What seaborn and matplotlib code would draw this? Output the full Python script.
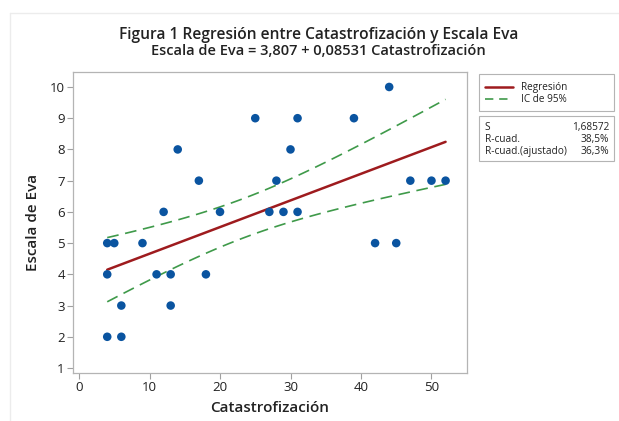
import numpy as np
import pandas as pd
import matplotlib
matplotlib.use("Agg")
import matplotlib.pyplot as plt
import seaborn as sns
from matplotlib.lines import Line2D

catastrofizacion = [12, 14, 17, 20, 25, 31, 30, 28, 27, 29, 31, 39, 44, 47, 50, 52,
                    4, 5, 9, 4, 11, 13, 18, 6, 13, 4, 6, 42, 45]
escala_eva = [6, 8, 7, 6, 9, 9, 8, 7, 6, 6, 6, 9, 10, 7, 7, 7,
              5, 5, 5, 4, 4, 4, 4, 3, 3, 2, 2, 5, 5]
intercept = 3.807
slope = 0.08531
stat_labels = ["S", "R-cuad.", "R-cuad.(ajustado)"]
stat_values = ["1,68572", "38,5%", "36,3%"]
legend_labels = ["Regresión", "IC de 95%"]
x_ticks = [0, 10, 20, 30, 40, 50]
y_ticks = [1, 2, 3, 4, 5, 6, 7, 8, 9, 10]

sns.set_style("white")
plt.rcParams['font.family'] = ['Open Sans', 'DejaVu Sans']

RED = "#9e1b1e"
GREEN = "#3f9a4a"

df = pd.DataFrame({"x": catastrofizacion, "y": escala_eva})
x = np.array(catastrofizacion, float)
n = len(x)
s = 1.68572
tcrit = 2.048
xm = x.mean()
sxx = ((x - xm) ** 2).sum()
xs = np.linspace(x.min(), x.max(), 100)
ys = intercept + slope * xs
se = s * np.sqrt(1.0 / (n + 1) + (xs - xm) ** 2 / sxx)
line_df = pd.DataFrame({"x": xs, "fit": ys, "lo": ys - tcrit * se, "hi": ys + tcrit * se})

fig = plt.figure(figsize=(6.19, 4.21), dpi=100)
ax = fig.add_axes([0.118, 0.114, 0.636, 0.715])

sns.scatterplot(data=df, x="x", y="y", ax=ax, color="#0a54a0", s=38,
                edgecolor="none", zorder=3)
sns.lineplot(data=line_df, x="x", y="fit", ax=ax, color=RED, lw=1.8, zorder=2)
for col in ["lo", "hi"]:
    sns.lineplot(data=line_df, x="x", y=col, ax=ax, color=GREEN, lw=1.2, zorder=2)
ax.lines[-1].set_dashes((7, 4))
ax.lines[-2].set_dashes((7, 4))

ax.set_xlim(-0.85, 55)
ax.set_ylim(0.84, 10.48)
ax.set_xticks(x_ticks)
ax.set_yticks(y_ticks)
ax.tick_params(axis="both", which="both", direction="out", length=4, width=0.8,
               color="#a0a0a0", labelsize=9.5, pad=2, labelcolor="#222222",
               bottom=True, left=True)
for sp in ax.spines.values():
    sp.set_color("#b4b4b4")
    sp.set_linewidth(0.9)
ax.set_xlabel("Catastrofización", fontsize=11, fontweight="semibold", color="#222222", labelpad=5)
ax.set_ylabel("Escala de Eva", fontsize=11, fontweight="semibold", color="#222222", labelpad=7)

fig.text(0.515, 0.917, "Figura 1 Regresión entre Catastrofización y Escala Eva",
         ha="center", va="center", fontsize=11.2, fontweight="semibold", color="#222222")
fig.text(0.515, 0.880, "Escala de Eva = 3,807 + 0,08531 Catastrofización",
         ha="center", va="center", fontsize=10.5, fontweight="semibold", color="#222222")

# legend box
lx0, lx1, ly0, ly1 = 0.774, 0.992, 0.7363, 0.8242
fig.patches.append(plt.Rectangle((lx0, ly0), lx1 - lx0, ly1 - ly0, transform=fig.transFigure,
                                 fill=False, edgecolor="#b4b4b4", lw=0.8))
row_y = [0.7933, 0.7648]
fig.add_artist(Line2D([0.7835, 0.8288], [row_y[0], row_y[0]], transform=fig.transFigure,
                      color=RED, lw=1.8))
fig.add_artist(Line2D([0.7835, 0.8288], [row_y[1], row_y[1]], transform=fig.transFigure,
                      color=GREEN, lw=1.2, dashes=(5, 3.5)))
for yy, lab in zip(row_y, legend_labels):
    fig.text(0.8417, yy, lab, fontsize=7.2, va="center", ha="left", color="#222222")

# stats box
bx0, bx1, by0, by1 = 0.774, 0.992, 0.6176, 0.7245
fig.patches.append(plt.Rectangle((bx0, by0), bx1 - bx0, by1 - by0, transform=fig.transFigure,
                                 fill=False, edgecolor="#b4b4b4", lw=0.8))
stat_y = [0.6983, 0.6698, 0.6413]
for yy, lab, val in zip(stat_y, stat_labels, stat_values):
    fig.text(bx0 + 0.009, yy, lab, fontsize=7.3, va="center", ha="left", color="#222222")
    fig.text(bx1 - 0.008, yy, val, fontsize=7.3, va="center", ha="right", color="#222222")

# faint outer frame lines
fig.add_artist(Line2D([0.016, 1.0], [0.969, 0.969], transform=fig.transFigure,
                      color="#ececec", lw=1.0))
fig.add_artist(Line2D([0.016, 0.016], [0.969, 0.0], transform=fig.transFigure,
                      color="#ececec", lw=1.0))

fig.savefig("out.png", dpi=100)
